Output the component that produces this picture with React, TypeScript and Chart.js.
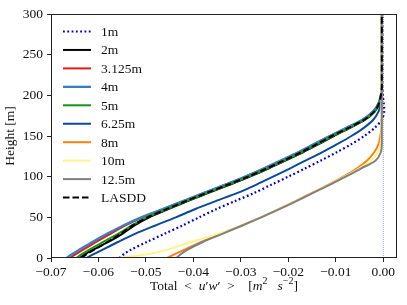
import React, { useEffect, useRef } from "react";
import { Chart, registerables } from "chart.js";

Chart.register(...registerables);

// ---- data ----
const heights = [0, 5, 10, 20, 30, 40, 50, 60, 70, 80, 90, 100, 110, 120, 130, 140, 150, 160, 170, 180, 190, 200, 210, 225, 250, 300];

const uw1m = [-0.0556, -0.0546, -0.0532, -0.0497, -0.0460, -0.0423, -0.0388, -0.0352, -0.0312, -0.0272, -0.0236, -0.0200, -0.0165, -0.0131, -0.0098, -0.0067, -0.0040, -0.0018, -0.0003, 0.0002, 0.0001, -0.0001, -0.0002, -0.0002, -0.0002, -0.0002];
const uw2m = [-0.0640, -0.0627, -0.0612, -0.0578, -0.0549, -0.0524, -0.0493, -0.0453, -0.0412, -0.0368, -0.0324, -0.0281, -0.0242, -0.0205, -0.0169, -0.0136, -0.0104, -0.0070, -0.0038, -0.0018, -0.0008, -0.0004, -0.0003, -0.0003, -0.0003, -0.0003];
const uw3125m = [-0.0660, -0.0647, -0.0633, -0.0604, -0.0574, -0.0543, -0.0507, -0.0464, -0.0421, -0.0377, -0.0333, -0.0290, -0.0251, -0.0214, -0.0178, -0.0145, -0.0112, -0.0077, -0.0043, -0.0021, -0.0010, -0.0005, -0.0003, -0.0003, -0.0003, -0.0003];
const uw4m = [-0.0667, -0.0655, -0.0641, -0.0612, -0.0581, -0.0548, -0.0510, -0.0466, -0.0422, -0.0378, -0.0334, -0.0291, -0.0252, -0.0215, -0.0179, -0.0146, -0.0113, -0.0078, -0.0044, -0.0022, -0.0010, -0.0005, -0.0003, -0.0003, -0.0003, -0.0003];
const uw5m = [-0.0647, -0.0634, -0.0620, -0.0589, -0.0558, -0.0530, -0.0498, -0.0456, -0.0414, -0.0370, -0.0326, -0.0283, -0.0244, -0.0207, -0.0171, -0.0138, -0.0106, -0.0071, -0.0039, -0.0018, -0.0008, -0.0004, -0.0003, -0.0003, -0.0003, -0.0003];
const uw625m = [-0.0625, -0.0609, -0.0592, -0.0558, -0.0522, -0.0480, -0.0437, -0.0397, -0.0353, -0.0307, -0.0268, -0.0232, -0.0197, -0.0163, -0.0129, -0.0097, -0.0067, -0.0041, -0.0021, -0.0010, -0.0005, -0.0003, -0.0003, -0.0003, -0.0003, -0.0003];
const uw8m = [-0.0455, -0.0438, -0.0420, -0.0382, -0.0340, -0.0298, -0.0258, -0.0220, -0.0185, -0.0150, -0.0116, -0.0084, -0.0056, -0.0034, -0.0019, -0.0010, -0.0006, -0.0004, -0.0003, -0.0003, -0.0003, -0.0003, -0.0003, -0.0003, -0.0003, -0.0003];
const uw10m = [-0.0558, -0.0493, -0.0456, -0.0404, -0.0346, -0.0299, -0.0258, -0.0220, -0.0184, -0.0149, -0.0114, -0.0081, -0.0051, -0.0026, -0.0011, -0.0006, -0.0004, -0.0004, -0.0004, -0.0004, -0.0004, -0.0004, -0.0004, -0.0004, -0.0004, -0.0004];
const uw125m = [-0.0436, -0.0426, -0.0413, -0.0379, -0.0338, -0.0297, -0.0257, -0.0219, -0.0183, -0.0148, -0.0113, -0.0079, -0.0047, -0.0016, -0.0005, -0.0003, -0.0003, -0.0003, -0.0003, -0.0003, -0.0003, -0.0003, -0.0003, -0.0003, -0.0003, -0.0003];
const uwLASDD = [-0.0636, -0.0624, -0.0610, -0.0580, -0.0553, -0.0528, -0.0497, -0.0457, -0.0416, -0.0372, -0.0328, -0.0285, -0.0246, -0.0209, -0.0173, -0.0140, -0.0108, -0.0073, -0.0040, -0.0019, -0.0009, -0.0005, -0.0003, -0.0003, -0.0003, -0.0003];

const seriesLabels = ["1m", "2m", "3.125m", "4m", "5m", "6.25m", "8m", "10m", "12.5m", "LASDD"];
const seriesValues = [uw1m, uw2m, uw3125m, uw4m, uw5m, uw625m, uw8m, uw10m, uw125m, uwLASDD];

const zeroLineX = [0, 0];
const zeroLineH = [0, 300];

const xTicks = [-0.07, -0.06, -0.05, -0.04, -0.03, -0.02, -0.01, 0];
const yTicks = [0, 50, 100, 150, 200, 250, 300];

// ---- styles ----
const FONT = "'Liberation Serif', 'Times New Roman', serif";
const FS = 13.5;
const seriesColors = ["#0000cd", "#000000", "#e41a1c", "#3a7fc0", "#139613", "#0b4a9a", "#ff7f0e", "#fff38a", "#808080", "#000000"];
const seriesDash: number[][] = [[1.8, 2.5], [], [], [], [], [], [], [], [], [6.5, 3]];
const seriesWidth = [2.2, 2, 2, 2.3, 2, 2, 2, 2, 2, 2];

const fmtX = (v: number) => (v === 0 ? "0.00" : (v < 0 ? "\u2212" : "") + Math.abs(v).toFixed(2));

const legendPlugin = {
  id: "insideLegend",
  afterDatasetsDraw(chart: any) {
    const ctx = chart.ctx;
    const { left, top } = chart.chartArea;
    const x0 = left + 12;
    ctx.save();
    seriesLabels.forEach((label, i) => {
      const y = top + 17.5 + i * 18.45;
      ctx.strokeStyle = seriesColors[i];
      ctx.lineWidth = seriesWidth[i];
      ctx.setLineDash(seriesDash[i]);
      ctx.lineCap = "butt";
      ctx.beginPath();
      ctx.moveTo(x0, y);
      ctx.lineTo(x0 + 28, y);
      ctx.stroke();
      ctx.setLineDash([]);
      ctx.fillStyle = "#111";
      ctx.font = `${FS}px ${FONT}`;
      ctx.textBaseline = "middle";
      ctx.textAlign = "left";
      ctx.fillText(label, x0 + 38, y + 1);
    });
    ctx.restore();
  },
};

const framePlugin = {
  id: "frame",
  afterDraw(chart: any) {
    const ctx = chart.ctx;
    const { left, top, right, bottom } = chart.chartArea;
    ctx.save();
    ctx.strokeStyle = "#222";
    ctx.lineWidth = 1;
    ctx.strokeRect(Math.round(left) + 0.5, Math.round(top) + 0.5, Math.round(right - left) - 1, Math.round(bottom - top) - 1);
    ctx.restore();
  },
};

const xLabelPlugin = {
  id: "xLabel",
  afterDraw(chart: any) {
    const ctx = chart.ctx;
    const { left, right } = chart.chartArea;
    const cx = (left + right) / 2;
    const y = 286;
    const normal = `${FS}px ${FONT}`;
    const italic = `italic ${FS}px ${FONT}`;
    const sup = `10px ${FONT}`;
    const segs: { t: string; f: string; dy: number }[] = [
      { t: "Total  <  ", f: normal, dy: 0 },
      { t: "u", f: italic, dy: 0 },
      { t: "\u2032", f: normal, dy: 0 },
      { t: "w", f: italic, dy: 0 },
      { t: "\u2032", f: normal, dy: 0 },
      { t: "  >    [", f: normal, dy: 0 },
      { t: "m", f: italic, dy: 0 },
      { t: "2", f: sup, dy: -5 },
      { t: "   ", f: normal, dy: 0 },
      { t: "s", f: italic, dy: 0 },
      { t: "\u22122", f: sup, dy: -5 },
      { t: "]", f: normal, dy: 0 },
    ];
    ctx.save();
    let total = 0;
    segs.forEach((s) => {
      ctx.font = s.f;
      total += ctx.measureText(s.t).width;
    });
    let x = cx - total / 2;
    ctx.fillStyle = "#111";
    ctx.textBaseline = "middle";
    ctx.textAlign = "left";
    segs.forEach((s) => {
      ctx.font = s.f;
      ctx.fillText(s.t, x, y + s.dy);
      x += ctx.measureText(s.t).width;
    });
    ctx.restore();
  },
};

export default function App() {
  const canvasRef = useRef<HTMLCanvasElement | null>(null);

  useEffect(() => {
    if (!canvasRef.current) return;
    const n = seriesLabels.length;
    const datasets: any[] = seriesLabels.map((label, i) => ({
      label,
      data: heights.map((h, j) => ({ x: seriesValues[i][j], y: h })),
      borderColor: seriesColors[i],
      backgroundColor: seriesColors[i],
      borderWidth: seriesWidth[i],
      borderDash: seriesDash[i],
      borderCapStyle: "butt",
      showLine: true,
      pointRadius: 0,
      tension: 0.3,
      fill: false,
      order: n - i,
    }));
    datasets.push({
      label: "zero",
      data: zeroLineH.map((h, j) => ({ x: zeroLineX[j], y: h })),
      borderColor: "#6b93bd",
      borderWidth: 0.8,
      borderDash: [1, 1],
      showLine: true,
      pointRadius: 0,
      fill: false,
      order: n + 5,
    });

    const chart = new Chart(canvasRef.current, {
      type: "scatter",
      data: { datasets },
      options: {
        animation: false,
        responsive: false,
        layout: { padding: { left: 0, top: 14, right: 10, bottom: 0 } },
        plugins: {
          legend: { display: false },
          title: { display: false },
          tooltip: { enabled: false },
        },
        scales: {
          x: {
            type: "linear",
            min: -0.07,
            max: 0.0029,
            afterBuildTicks: (scale: any) => {
              scale.ticks = xTicks.map((v) => ({ value: v }));
            },
            afterFit: (scale: any) => {
              scale.height = 47;
            },
            ticks: {
              callback: (v: any) => fmtX(Number(v)),
              font: { family: FONT, size: FS },
              color: "#111",
              padding: 2,
              autoSkip: false,
              maxRotation: 0,
            },
            grid: {
              display: true,
              drawOnChartArea: false,
              drawTicks: true,
              tickLength: 4,
              color: "#222",
              tickWidth: 1,
            },
            border: { display: false },
            title: { display: false },
          },
          y: {
            type: "linear",
            min: 0,
            max: 300,
            afterBuildTicks: (scale: any) => {
              scale.ticks = yTicks.map((v) => ({ value: v }));
            },
            afterFit: (scale: any) => {
              scale.width = 51;
            },
            ticks: {
              callback: (v: any) => String(v),
              font: { family: FONT, size: FS },
              color: "#111",
              padding: 4,
              autoSkip: false,
            },
            grid: {
              display: true,
              drawOnChartArea: false,
              drawTicks: true,
              tickLength: 4,
              color: "#222",
              tickWidth: 1,
            },
            border: { display: false },
            title: {
              display: true,
              text: "Height [m]",
              font: { family: FONT, size: FS },
              color: "#111",
              padding: { top: 2, bottom: 0 },
            },
          },
        },
      },
      plugins: [legendPlugin, framePlugin, xLabelPlugin],
    });
    return () => chart.destroy();
  }, []);

  return (
    <canvas
      ref={canvasRef}
      width={407}
      height={305}
      style={{ position: "fixed", left: 0, top: 0, width: 407, height: 305, display: "block", background: "#fff" }}
    />
  );
}
